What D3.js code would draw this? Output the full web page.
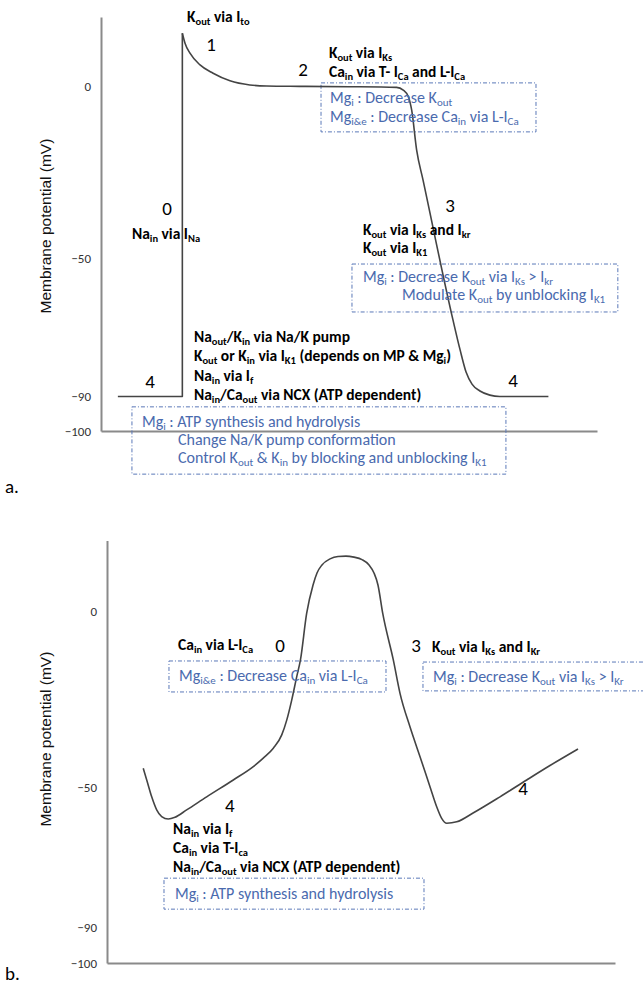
<!DOCTYPE html>
<html>
<head>
<meta charset="utf-8">
<script src="https://cdn.jsdelivr.net/npm/d3@7"></script>
<style>
  body { margin: 0; background: #fff; }
  svg { display: block; }
  text { white-space: pre; }
</style>
</head>
<body>
<div id="chart"></div>
<script>
// ---- data ----
const yTicks = [0, -50, -90, -100];
const yLabel = "Membrane potential (mV)";

// panel a : ventricular action potential (time in ms, potential in mV)
const upstrokeTimeA = [17, 82, 82];
const upstrokeVA = [-90, -90, 15.3];
const repolTimeA = [82, 84.7, 89.7, 99.8, 113, 130, 150, 167, 200, 250, 298, 304.7, 309.8, 313.2, 318.2, 324.6, 354.8, 362, 368, 374, 382, 392, 402, 451];
const repolVA = [15.3, 12.4, 9.5, 6.1, 3.7, 1.5, 0.3, 0, -0.1, -0.2, -0.4, -1.2, -3.1, -7, -18.6, -27.2, -67.8, -76.5, -82.9, -86.4, -88.4, -89.6, -90, -90];

// panel b : pacemaker action potential
const timeB = [35.7, 39.1, 44, 48.9, 53.8, 60.3, 66.9, 78.4, 98.1, 124.3, 144, 153.8, 163.7, 172, 176.9, 181.8, 186.7, 190.4, 196.5, 202.8, 206.7, 211.6, 219.5, 227.4, 235.2, 243.1, 251, 257.9, 262.8, 266.7, 271.4, 281.8, 288.4, 298.2, 308.1, 317.9, 324.5, 329.4, 334.4, 344.2, 360.3, 386.8, 413.1, 436, 463.6];
const vB = [-44.7, -48, -52.8, -56.5, -58.4, -59.1, -58.6, -56.5, -52.8, -48, -44.2, -41.8, -39, -35.2, -31, -25.3, -18.7, -13.9, -0.7, 7.4, 10.8, 13.1, 14.8, 15.5, 15.6, 15.3, 14.6, 13.1, 10.8, 7.4, -0.7, -13.9, -23.4, -32.9, -41.4, -49.9, -55.6, -58.9, -60.3, -59.9, -57.4, -52.8, -48, -43.9, -39.2];

// ---- annotations (anchor in data units: t ms, v mV) ----
const notesA = [
  { kind: "bold", t: 86.7, v: 18.6, text: "K_{out} via I_{to}" },
  { kind: "phase", t: 110.9, v: 10.1, text: "1" },
  { kind: "phase", t: 203.6, v: 2.9, text: "2" },
  { kind: "bold", t: 229.8, v: 8.1, text: "K_{out} via I_{Ks}" },
  { kind: "bold", t: 229.8, v: 2.6, text: "Ca_{in} via T- I_{Ca} and L-I_{Ca}" },
  { kind: "blue", t: 230.8, v: -4.9, text: "Mg_{i} : Decrease K_{out}" },
  { kind: "blue", t: 230.8, v: -10.4, text: "Mg_{i&e} : Decrease Ca_{in} via L-I_{Ca}" },
  { kind: "phase", t: 66.5, v: -37.4, text: "0" },
  { kind: "bold", t: 31.2, v: -44.3, text: "Na_{in} via I_{Na}" },
  { kind: "phase", t: 351.8, v: -36.5, text: "3" },
  { kind: "bold", t: 264.1, v: -43.2, text: "K_{out} via I_{Ks} and I_{kr}" },
  { kind: "bold", t: 264.1, v: -48.4, text: "K_{out} via I_{K1}" },
  { kind: "blue", t: 264.1, v: -56.8, text: "Mg_{i} : Decrease K_{out} via I_{Ks} > I_{kr}" },
  { kind: "blue", t: 303.4, v: -62, text: "Modulate K_{out} by unblocking I_{K1}" },
  { kind: "bold", t: 93.7, v: -74.2, text: "Na_{out}/K_{in} via Na/K pump" },
  { kind: "bold", t: 93.7, v: -79.7, text: "K_{out} or K_{in} via I_{K1} (depends on MP & Mg_{i})" },
  { kind: "bold", t: 93.7, v: -85.5, text: "Na_{in} via I_{f}" },
  { kind: "bold", t: 93.7, v: -91, text: "Na_{in}/Ca_{out} via NCX (ATP dependent)" },
  { kind: "phase", t: 49.4, v: -87.5, text: "4" },
  { kind: "phase", t: 415.3, v: -87.2, text: "4" },
  { kind: "blue", t: 41.3, v: -98.8, text: "Mg_{i} : ATP synthesis and hydrolysis" },
  { kind: "blue", t: 77.6, v: -104.1, text: "Change Na/K pump conformation" },
  { kind: "blue", t: 77.6, v: -109.3, text: "Control K_{out} & K_{in} by blocking and unblocking I_{K1}" },
  { kind: "panel", t: -96.8, v: -118, text: "a." }
];
const boxesA = [
  { t0: 221.8, t1: 438.5, v0: 0.9, v1: -13.3 },
  { t0: 253, t1: 521, v0: -51.6, v1: -65.5 },
  { t0: 31.2, t1: 408.2, v0: -93, v1: -112.5 }
];

const notesB = [
  { kind: "bold", t: 69.9, v: -11.1, text: "Ca_{in} via L-I_{Ca}" },
  { kind: "phase", t: 170.3, v: -11.6, text: "0" },
  { kind: "phase", t: 304.1, v: -11.6, text: "3" },
  { kind: "bold", t: 319.9, v: -11.6, text: "K_{out} via I_{Ks} and I_{Kr}" },
  { kind: "blue", t: 70.9, v: -19.9, text: "Mg_{i&e} : Decrease Ca_{in} via L-I_{Ca}" },
  { kind: "blue", t: 320.9, v: -20.2, text: "Mg_{i} : Decrease K_{out} via I_{Ks} > I_{Kr}" },
  { kind: "phase", t: 121, v: -57.1, text: "4" },
  { kind: "phase", t: 409.5, v: -52.3, text: "4" },
  { kind: "bold", t: 65, v: -63.4, text: "Na_{in} via I_{f}" },
  { kind: "bold", t: 65, v: -68.8, text: "Ca_{in} via T-I_{ca}" },
  { kind: "bold", t: 65, v: -74.1, text: "Na_{in}/Ca_{out} via NCX (ATP dependent)" },
  { kind: "blue", t: 66.9, v: -81.8, text: "Mg_{i} : ATP synthesis and hydrolysis" },
  { kind: "panel", t: -100.4, v: -104.8, text: "b." }
];
const boxesB = [
  { t0: 61, t1: 274.6, v0: -14.2, v1: -23 },
  { t0: 311, t1: 534.5, v0: -14.5, v1: -22.7 },
  { t0: 56.1, t1: 312, v0: -75.9, v1: -84.7 }
];

// ---- drawing ----
const W = 643, H = 987;
const noteFont = "Carlito, Calibri, Lato, sans-serif";
const blue = "#4a6aae";

const svg = d3.select("#chart").append("svg")
  .attr("width", W).attr("height", H);
svg.append("rect").attr("width", W).attr("height", H).attr("fill", "#fff");

// writes "X_{sub}" markup as tspans
function richText(sel, str, subSize) {
  const parts = str.split(/(_\{[^}]*\})/);
  let down = false;
  parts.forEach(p => {
    if (!p) return;
    if (p.startsWith("_{")) {
      sel.append("tspan").attr("font-size", subSize).attr("dy", 3).text(p.slice(2, -1));
      down = true;
    } else {
      const ts = sel.append("tspan").text(p);
      if (down) { ts.attr("dy", -3); down = false; }
    }
  });
}

function drawPanel(cfg) {
  const x = d3.scaleLinear().domain([0, 500]).range(cfg.xRange);
  const y = d3.scaleLinear().domain([-100, 20]).range(cfg.yRange);
  const g = svg.append("g");

  // axes
  const yAxis = d3.axisLeft(y).tickValues(yTicks).tickSize(0).tickSizeOuter(0).tickPadding(10);
  const xAxis = d3.axisBottom(x).tickValues([]).tickSizeOuter(0);
  const ya = g.append("g").attr("transform", "translate(" + x(0) + ",0)").call(yAxis);
  const xa = g.append("g").attr("transform", "translate(0," + y(-100) + ")").call(xAxis);
  [ya, xa].forEach(a => a.select(".domain").attr("stroke", "#8a8a8a").attr("stroke-width", 2));
  ya.selectAll(".tick text")
    .attr("font-family", noteFont).attr("font-size", 13).attr("fill", "#333");

  g.append("text")
    .attr("transform", "translate(" + x(cfg.labelT) + "," + y(cfg.labelV) + ") rotate(-90)")
    .attr("text-anchor", "middle")
    .attr("font-family", "'Liberation Sans', Arial, sans-serif")
    .attr("font-size", 15.5).attr("fill", "#111")
    .text(yLabel);

  // boxes
  g.selectAll(".box").data(cfg.boxes).enter().append("rect")
    .attr("class", "box")
    .attr("x", d => x(d.t0)).attr("y", d => y(d.v0))
    .attr("width", d => x(d.t1) - x(d.t0))
    .attr("height", d => y(d.v1) - y(d.v0))
    .attr("fill", "none").attr("stroke", "#5a78b8").attr("stroke-width", 1)
    .attr("stroke-dasharray", "4,2,1,2");

  // curves
  cfg.curves.forEach(c => {
    const pts = c.t.map((t, i) => [t, c.v[i]]);
    const line = d3.line().x(d => x(d[0])).y(d => y(d[1])).curve(c.curve);
    g.append("path").attr("d", line(pts))
      .attr("fill", "none").attr("stroke", "#444").attr("stroke-width", 1.6)
      .attr("stroke-linejoin", "round");
  });

  // annotations
  cfg.notes.forEach(n => {
    const t = g.append("text").attr("x", x(n.t)).attr("y", y(n.v))
      .attr("font-family", noteFont);
    if (n.kind === "bold") {
      t.attr("font-size", 15.5).attr("font-weight", "bold").attr("fill", "#000");
      richText(t, n.text, 10.5);
    } else if (n.kind === "blue") {
      t.attr("font-size", 16).attr("fill", blue);
      richText(t, n.text, 11);
    } else if (n.kind === "phase") {
      t.attr("font-size", 19).attr("text-anchor", "middle").attr("fill", "#000").text(n.text);
    } else {
      t.attr("font-size", 19).attr("fill", "#000").text(n.text);
    }
  });
}

drawPanel({
  xRange: [101, 597], yRange: [431, 17],
  labelT: -50.4, labelV: -40.6,
  boxes: boxesA, notes: notesA,
  curves: [
    { t: upstrokeTimeA, v: upstrokeVA, curve: d3.curveLinear },
    { t: repolTimeA, v: repolVA, curve: d3.curveMonotoneX }
  ]
});

drawPanel({
  xRange: [107, 615], yRange: [963, 540.6],
  labelT: -55.1, labelV: -36.4,
  boxes: boxesB, notes: notesB,
  curves: [
    { t: timeB, v: vB, curve: d3.curveMonotoneX }
  ]
});
</script>
</body>
</html>
